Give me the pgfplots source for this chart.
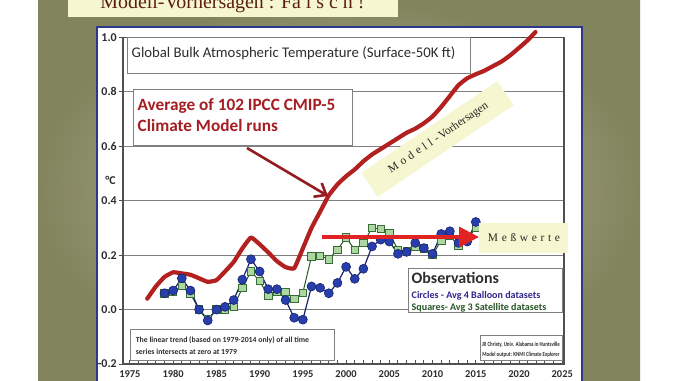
\documentclass[border=0pt]{standalone}
\usepackage{pgfplots}
\pgfplotsset{compat=1.18}
\usepackage{fontspec}
\setmainfont{Carlito}
\newfontfamily\serifont{Liberation Serif}
\newfontfamily\serifspaced[LetterSpace=32]{Liberation Serif}
\usetikzlibrary{arrows.meta}
\definecolor{olivein}{RGB}{190,191,158}
\definecolor{oliveout}{RGB}{130,132,94}
\definecolor{cream}{RGB}{246,246,208}
\definecolor{framebl}{RGB}{45,55,140}
\definecolor{modelred}{RGB}{178,32,32}
\definecolor{txtred}{RGB}{165,30,35}
\definecolor{arrred}{RGB}{225,35,35}
\definecolor{ballfill}{RGB}{40,62,172}
\definecolor{balldraw}{RGB}{25,35,110}
\definecolor{satfill}{RGB}{172,215,160}
\definecolor{satdraw}{RGB}{55,110,55}
\definecolor{gridc}{RGB}{128,128,128}
\definecolor{axc}{RGB}{80,80,80}
\definecolor{txtgray}{RGB}{45,45,45}
\definecolor{circtxt}{RGB}{48,38,140}
\definecolor{sqtxt}{RGB}{40,85,40}
\definecolor{toptxt}{RGB}{90,30,20}

\pgfplotstableread{
year val
1977 0.04
1978 0.085
1979 0.12
1980 0.137
1981 0.133
1982 0.128
1983 0.115
1984 0.102
1985 0.108
1986 0.14
1987 0.175
1988 0.225
1989 0.265
1990 0.24
1991 0.21
1992 0.178
1993 0.156
1994 0.152
1995 0.225
1996 0.30
1997 0.36
1998 0.42
1999 0.46
2000 0.49
2001 0.515
2002 0.545
2003 0.57
2004 0.59
2005 0.61
2006 0.63
2007 0.65
2008 0.665
2009 0.685
2010 0.71
2011 0.745
2012 0.785
2013 0.825
2014 0.85
2015 0.865
2016 0.878
2017 0.895
2018 0.912
2019 0.935
2020 0.962
2021 0.99
2021.9 1.02
}\model

\pgfplotstableread{
year val
1979 0.06
1980 0.065
1981 0.088
1982 0.058
1983 0.0
1984 -0.035
1985 0.0
1986 -0.002
1987 0.01
1988 0.08
1989 0.14
1990 0.105
1991 0.05
1992 0.067
1993 0.065
1994 0.04
1995 0.062
1996 0.195
1997 0.198
1998 0.185
1999 0.22
2000 0.265
2001 0.22
2002 0.245
2003 0.30
2004 0.297
2005 0.28
2006 0.22
2007 0.215
2008 0.23
2009 0.225
2010 0.20
2011 0.255
2012 0.27
2013 0.235
2014 0.255
2015 0.302
}\sat

\pgfplotstableread{
year val
1979 0.06
1980 0.07
1981 0.115
1982 0.07
1983 0.0
1984 -0.04
1985 0.0
1986 0.01
1987 0.035
1988 0.11
1989 0.185
1990 0.14
1991 0.075
1992 0.075
1993 0.035
1994 -0.03
1995 -0.037
1996 0.085
1997 0.08
1998 0.06
1999 0.098
2000 0.157
2001 0.113
2002 0.15
2003 0.232
2004 0.257
2005 0.25
2006 0.205
2007 0.212
2008 0.245
2009 0.226
2010 0.205
2011 0.278
2012 0.288
2013 0.245
2014 0.25
2015 0.322
}\balloon

\begin{document}
\begin{tikzpicture}
\path[use as bounding box] (0,0) rectangle (678bp,381bp);
\clip (0,0) rectangle (678bp,381bp);
\begin{scope}[x=1bp,y=1bp]
\fill[white] (0,0) rectangle (678,381);
\shade[inner color=olivein, outer color=oliveout] (38,0) rectangle (640,381);
\fill[cream] (68,364) rectangle (398,395);
\node[anchor=base, inner sep=0, text=toptxt, font=\serifont\fontsize{20}{24}\selectfont] at (232.5,373) {Modell-Vorhersagen : Fa l s c h !};
\filldraw[fill=white, draw=framebl, line width=2] (97,-10) rectangle (582,354);
\end{scope}

\begin{axis}[
  at={(123bp,17bp)}, anchor=south west,
  width=441bp, height=326.5bp, scale only axis,
  xmin=1974.2, xmax=2025.2, ymin=-0.2, ymax=1.0,
  clip=false,
  axis line style={axc, line width=1.2bp},
  ymajorgrids, grid style={gridc, line width=1.1bp},
  xtick={1975,1980,...,2025},
  xticklabels={1975,1980,1985,1990,1995,2000,2005,2010,2015,2020,2025},
  minor x tick num=4,
  ytick={-0.2,0,0.2,0.4,0.6,0.8,1.0},
  yticklabels={-0.2,0.0,0.2,0.4,0.6,0.8,1.0},
  xtick pos=left, ytick pos=left,
  xtick align=inside, ytick align=outside,
  major tick length=4bp, minor tick length=3.5bp,
  tick style={axc, line width=1bp},
  yticklabel style={font=\bfseries\fontsize{12}{14}\selectfont, text=txtgray, inner sep=2bp},
  xticklabel style={font=\bfseries\fontsize{10.5}{12}\selectfont, text=txtgray, yshift=-3bp},
]
\addplot[modelred, line width=4.2bp, line join=round, line cap=round, smooth, tension=0.25] table[x=year,y=val] {\model};
\addplot[satdraw!80!black, line width=1bp, mark=square*, mark size=3.7bp, mark options={fill=satfill, draw=satdraw, line width=0.8bp}] table[x=year,y=val] {\sat};
\addplot[balldraw, line width=1.2bp, mark=*, mark size=4.5bp, mark options={fill=ballfill, draw=balldraw, line width=0.6bp}] table[x=year,y=val] {\balloon};
\end{axis}

\begin{scope}[x=1bp,y=1bp]
% title box
\draw[gray, line width=0.9, fill=white] (127,308) rectangle (470,343.5);
\node[anchor=base west, inner sep=0, font=\fontsize{14.8}{16}\selectfont, text=txtgray] at (131.5,323.7) {Global Bulk Atmospheric Temperature (Surface-50K ft)};
% red box
\draw[gray, line width=0.9, fill=white] (133,236) rectangle (352,292);
\node[anchor=base west, inner sep=0, font=\bfseries\fontsize{17.3}{20}\selectfont, text=txtred] at (137.5,271) {Average of 102 IPCC CMIP-5};
\node[anchor=base west, inner sep=0, font=\bfseries\fontsize{17.3}{20}\selectfont, text=txtred] at (137.5,249.3) {Climate Model runs};
\draw[txtred!90!black, line width=2.6, -{Straight Barb[length=10bp,width=16bp]}] (247,233) -- (328,185);
% Modell box
\fill[cream, rotate around={34:(437.5,242)}] (355.5,227.5) rectangle (519.5,256.5);
\node[rotate=34, inner sep=0, font=\fontsize{11.5}{13}\selectfont, text=black!85] at (438.5,243) {{\serifspaced Modell-}\,{\serifont Vorhersagen}};
% Messwerte
\fill[cream] (479,128) rectangle (568,158);
\node[inner sep=0, font=\serifspaced\fontsize{11.5}{13}\selectfont, text=black!85] at (524,143) {Meßwerte};
\draw[arrred, line width=3.5, -{Triangle[length=20bp,width=20bp]}] (322,144) -- (479,144);
% observations box
\draw[gray, line width=0.9, fill=white] (408,69) rectangle (562,113);
\node[anchor=base west, inner sep=0, font=\bfseries\fontsize{16}{18}\selectfont, text=txtgray] at (411.5,97.7) {Observations};
\node[anchor=base west, inner sep=0, font=\bfseries\fontsize{10.1}{12}\selectfont, text=circtxt] at (411.5,83) {Circles - Avg 4 Balloon datasets};
\node[anchor=base west, inner sep=0, font=\bfseries\fontsize{10.1}{12}\selectfont, text=sqtxt] at (411.5,71) {Squares- Avg 3 Satellite datasets};
% JR box
\draw[gray, line width=0.9, fill=white] (480,21) rectangle (562,46);
\node[anchor=base, inner sep=0, font=\bfseries\fontsize{6.3}{7}\selectfont, text=txtgray] at (521,34.3) {\scalebox{0.78}[1]{JR Christy, Univ. Alabama in Huntsville}};
\node[anchor=base, inner sep=0, font=\bfseries\fontsize{6.3}{7}\selectfont, text=txtgray] at (521,24.3) {\scalebox{0.78}[1]{Model output: KNMI Climate Explorer}};
% linear trend box
\draw[gray, line width=0.9, fill=white] (130,21) rectangle (334,52);
\node[anchor=base west, inner sep=0, font=\bfseries\fontsize{7.8}{9}\selectfont, text=txtgray] at (135.7,38.3) {The linear trend (based on 1979-2014 only) of all time};
\node[anchor=base west, inner sep=0, font=\bfseries\fontsize{7.8}{9}\selectfont, text=txtgray] at (135.7,27) {series intersects at zero at 1979};
% degree C
\node[inner sep=0, font=\bfseries\fontsize{12}{14}\selectfont, text=txtgray] at (110.5,201) {°C};
\end{scope}
\end{tikzpicture}
\end{document}
